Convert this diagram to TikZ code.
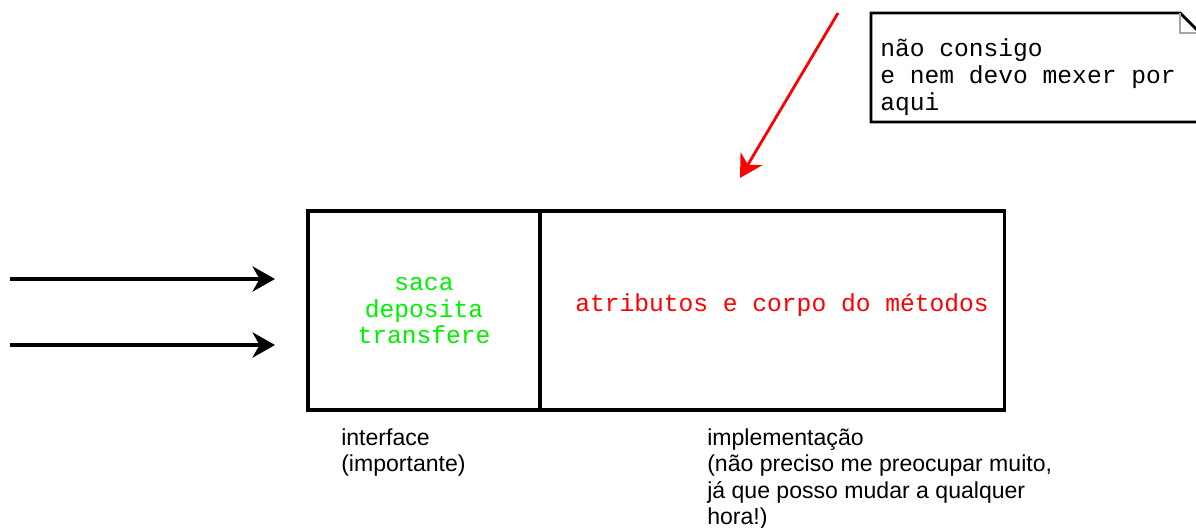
\documentclass[tikz,border=0pt]{standalone}
\usepackage{fontspec}
\setmainfont{Liberation Sans}
\newfontfamily\codefont{Liberation Mono}
\usetikzlibrary{arrows.meta,positioning}
\definecolor{codegreen}{RGB}{0,240,0}
\definecolor{codered}{RGB}{255,0,0}
\tikzset{
  part/.style={draw, line width=2.2pt, inner sep=0pt, outer sep=0pt},
  code/.style={font=\codefont\fontsize{17.5}{18.5}\selectfont, align=center},
  remark/.style={font=\fontsize{16.4}{18.85}\selectfont, align=left, anchor=north west, inner sep=0pt},
  flow/.style={-{Stealth[length=16pt, width=18pt, inset=5pt]}, line width=2.2pt},
}

\begin{document}
\begin{tikzpicture}[x=0.025cm, y=-0.025cm]
    \useasboundingbox (0,0) rectangle (1196,527);
    % Boxes
    \node [part, minimum width=5.8cm, minimum height=4.975cm, code, text=codegreen] (iface) at (424,310.5) {saca\\deposita\\transfere};
    \node [part, minimum width=11.6cm, minimum height=4.975cm, right=0pt of iface] (impl) {};
    \node [code, text=codered] (attrs) at (782,305) {atributos e corpo do métodos};

    % Labels
    \node [remark] (ifacelabel) at (341,428) {interface\\(importante)};
    \node [remark] (impllabel) at (707,428) {implementação\\(não preciso me preocupar muito,\\já que posso mudar a qualquer\\hora!)};

    % Note
    \draw [line width=2pt, fill=white] (871,13) -- (1180,13) -- (1199,32) -- (1199,122) -- (871,122) -- cycle;
    \draw [gray!70, line width=1pt] (1180,13) -- (1180,33) -- (1199,33);
    \node [code, font=\codefont\fontsize{17.5}{19.2}\selectfont, align=left, anchor=north west, inner sep=0pt] (memo) at (880,38) {não consigo\\e nem devo mexer por\\aqui};

    % Arrows
    \coordinate (in1) at (10,279);
    \coordinate (tip1) at (275,279);
    \coordinate (in2) at (10,345);
    \coordinate (tip2) at (275,345);
    \coordinate (from) at (838,13);
    \coordinate (to) at (740,178);
    \draw [flow] (in1) -- (tip1);
    \draw [flow] (in2) -- (tip2);
    \draw [flow, codered, line width=2pt] (from) -- (to);
\end{tikzpicture}
\end{document}
